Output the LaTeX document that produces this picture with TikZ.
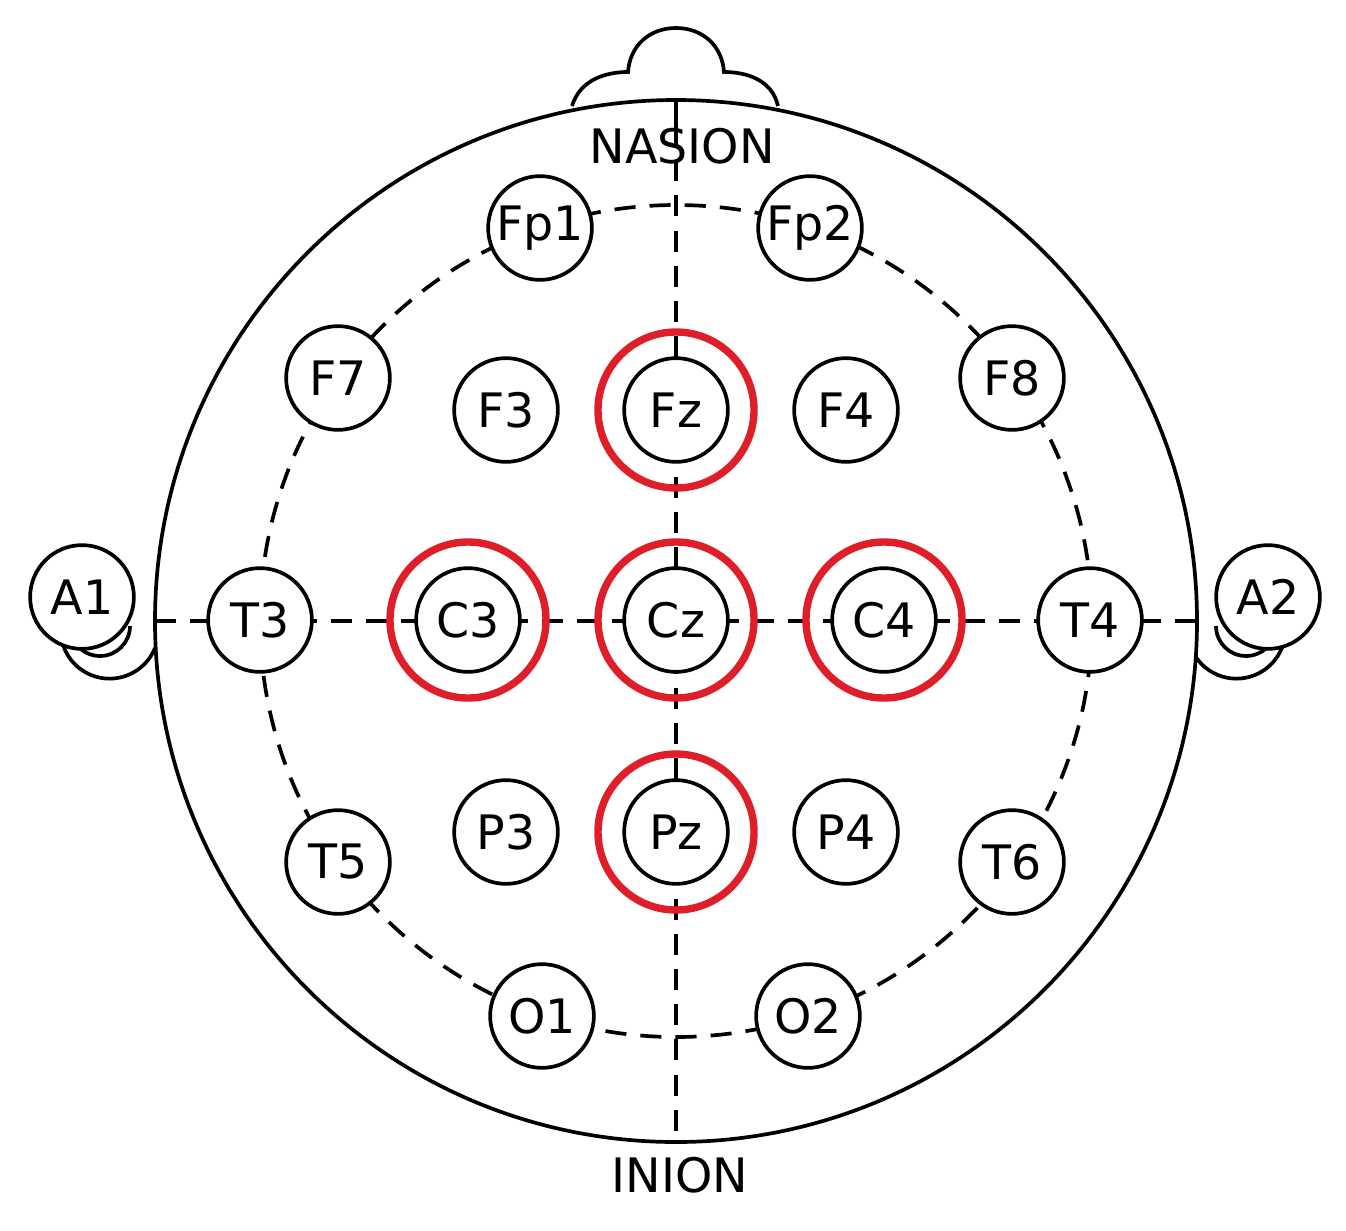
\documentclass[tikz,border=0pt]{standalone}
\usepackage{fontspec}
\setmainfont{DejaVu Sans}
\definecolor{eegred}{RGB}{222,30,40}
\begin{document}
\begin{tikzpicture}[x=0.01cm,y=-0.01cm,
  el/.style={circle,draw,line width=1.05pt,fill=white,minimum size=29.5pt,inner sep=0pt,font=\fontsize{13.5}{14}\selectfont},
  redc/.style={draw=eegred,line width=2.1pt},
  dsh/.style={line width=1.05pt,dash pattern=on 6pt off 4pt},
  lw/.style={line width=1.05pt}]
\useasboundingbox (0,0) rectangle (1346,1230);
% nose
\draw[lw] (572,106) .. controls (580,80) and (605,72) .. (628,72)
  .. controls (630,45) and (650,28) .. (676,28) .. controls (702,28) and (722,45) .. (724,72)
  .. controls (747,72) and (772,80) .. (778,106);
% ears
\draw[lw] (155,648) arc[start angle=22,end angle=160,radius=49];
\draw[lw] (130,626) arc[start angle=0,end angle=140,radius=30];
\draw[lw] (1191,648) arc[start angle=158,end angle=20,radius=49];
\draw[lw] (1216,626) arc[start angle=180,end angle=40,radius=30];
% head
\draw[lw,fill=white] (676,621) circle[radius=521];
\coordinate (N) at (676,100); \coordinate (S) at (676,1142);
\coordinate (W) at (155,621); \coordinate (E) at (1197,621);
\draw[lw] (N) -- (676,125);
\draw[dsh] (676,125) -- (S);
\draw[dsh] (W) -- (E);
\draw[dsh] (676,621) circle[radius=416];
\node[font=\fontsize{13.5}{14}\selectfont,inner sep=1pt] (nas) at (682,146) {NASION};
\node[font=\fontsize{13.5}{14}\selectfont] (ini) at (680,1175) {INION};
\foreach \n/\x/\y in {Fp1/540/228,Fp2/810/228,F7/338/378,F3/506/410,Fz/676/410,F4/846/410,F8/1012/378,
  T3/260/620,C3/468/620,Cz/676/620,C4/884/620,T4/1090/620,T5/338/862,P3/506/832,Pz/676/832,P4/846/832,
  T6/1012/862,O1/542/1016,O2/808/1016,A1/82/597,A2/1268/597}
  \node[el] (\n) at (\x,\y) {\n};
\foreach \n in {Fz,C3,Cz,C4,Pz}
  \draw[redc] (\n.center) circle[radius=78];
\end{tikzpicture}
\end{document}
